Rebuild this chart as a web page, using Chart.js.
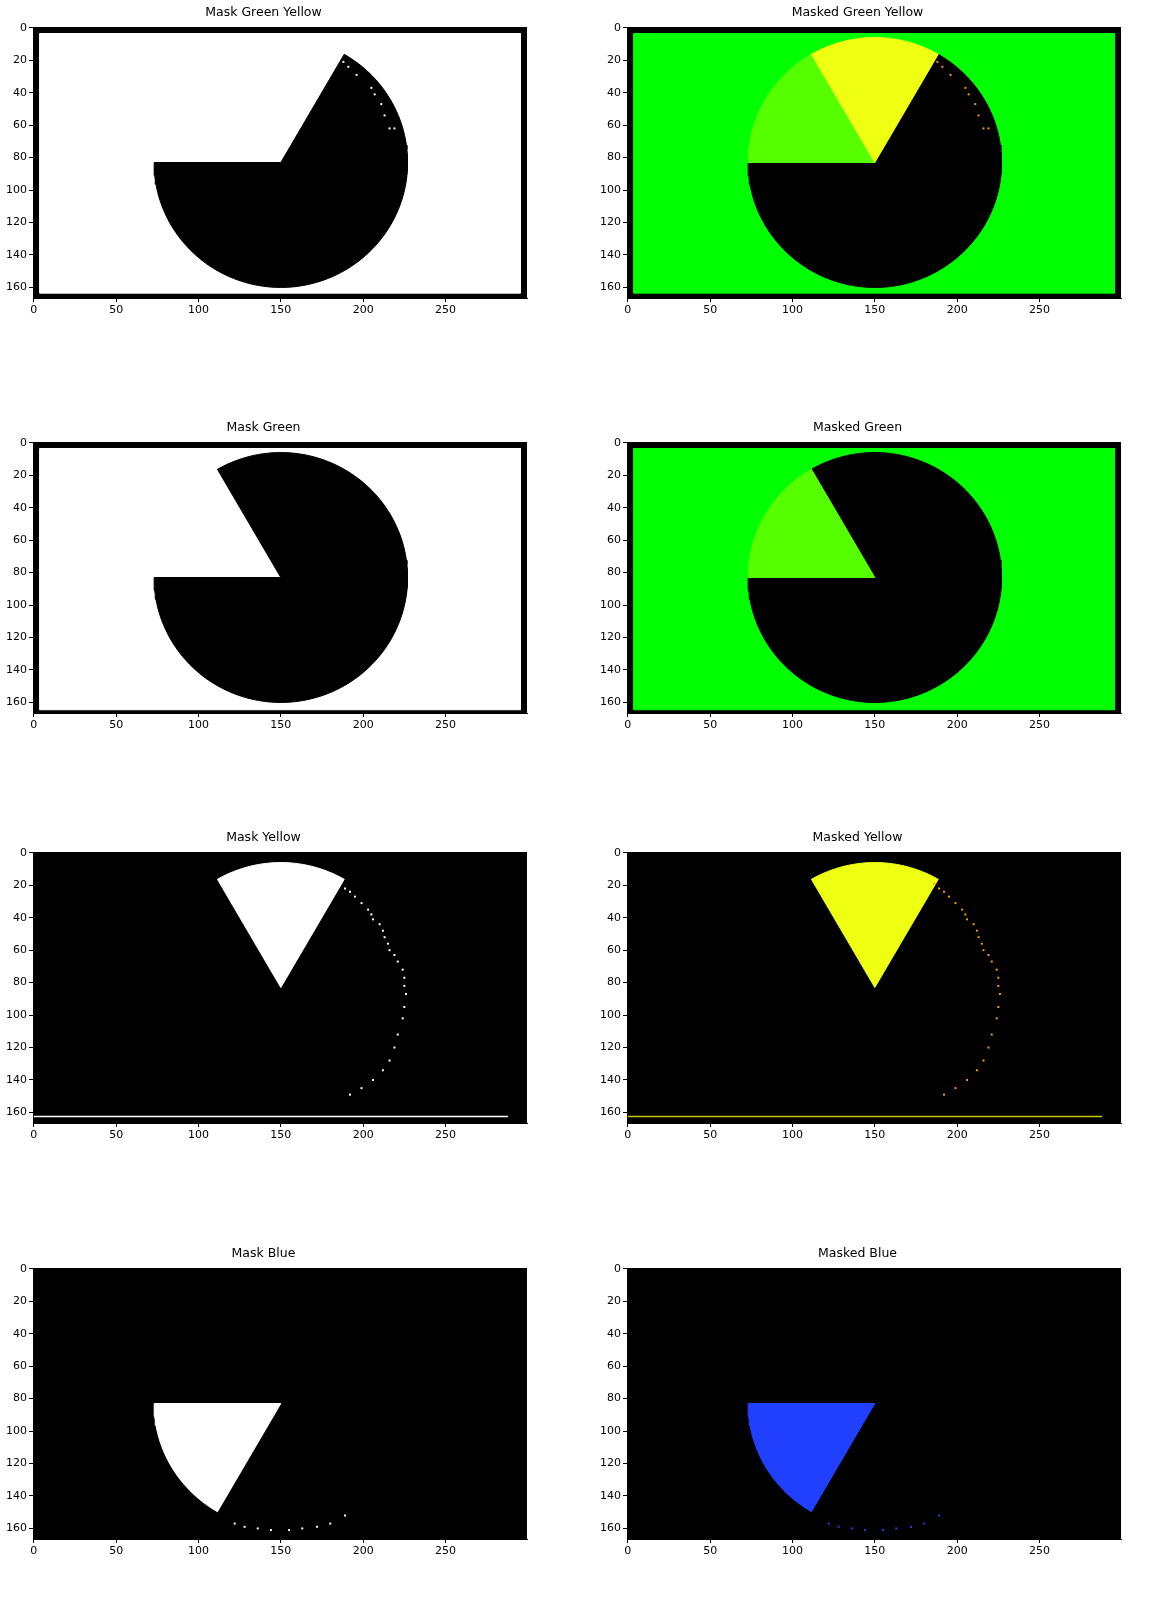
<!DOCTYPE html>
<html>
<head>
<meta charset="utf-8">
<script src="https://cdn.jsdelivr.net/npm/chart.js@4/dist/chart.umd.min.js"></script>
<style>
  body { margin: 0; background: #fff; width: 1159px; height: 1607px; position: relative; }
  .panel { position: absolute; width: 540px; height: 319px; }
</style>
</head>
<body>
<script>
// image extent and ticks
const imgW = 300
const imgH = 167
const xTicks = [0, 50, 100, 150, 200, 250]
const yTicks = [0, 20, 40, 60, 80, 100, 120, 140, 160]

// pie geometry (image coords, angles clockwise from +x, y down)
const pieCenter = [150, 83]
const pieRadius = 77
const greenWedge = [-180, -120]
const yellowWedge = [-120, -60]
const blueWedge = [120, 180]
const restOfPie = [-60, 120]

// frame (black border) inner rectangle
const frameInner = [3.5, 3.5, 295.5, 163.5]

// colours
const cGreen = '#00ff00'
const cLightGreen = '#55ff00'
const cYellow = '#eeff11'
const cOrange = '#ff9900'
const cBlue = '#2040ff'

// speckles along the pie edge
const yellowDots = [[186,19],[189,22],[192,24],[195,27],[199,31],[203,35],[205,38],[206,41],[210,44],[212,48],[213,52],[215,56],[216,60],[219,63],[221,67],[224,72],[225,77],[225,82],[226,87],[225,95],[224,102],[221,112],[219,120],[216,128],[212,134],[206,140],[199,145],[192,149]]
const edgeDots1 = [[188,21],[191,24],[196,29],[205,37],[207,41],[211,47],[213,54],[216,62],[219,62]]
const greenDots = [[172,40],[118,20],[120,24]]
const blueDots = [[122,157],[128,159],[136,160],[144,161],[155,161],[163,160],[172,159],[180,157],[189,152]]
const bottomLine = [[0,162.5],[288,162.5]]

function sector(range) {
  const pts = [{ x: pieCenter[0], y: pieCenter[1] }]
  for (let a = range[0]; a <= range[1] + 0.001; a += 2) {
    const r = a * Math.PI / 180
    pts.push({ x: pieCenter[0] + pieRadius * Math.cos(r), y: pieCenter[1] + pieRadius * Math.sin(r) })
  }
  pts.push({ x: pieCenter[0], y: pieCenter[1] })
  return pts
}
function rect(x0, y0, x1, y1) {
  return [{x:x0,y:y0},{x:x1,y:y0},{x:x1,y:y1},{x:x0,y:y1},{x:x0,y:y0}]
}
const poly = (data, color) => ({ type: 'line', data, backgroundColor: color, borderColor: color, borderWidth: 1, pointRadius: 0, fill: 'shape', tension: 0 })
const dots = (list, color) => ({ type: 'scatter', data: list.map(p => ({x:p[0], y:p[1]})), backgroundColor: color, borderWidth: 0, pointStyle: 'rect', pointRadius: 1.4 })
const line = (list, color) => ({ type: 'line', data: list.map(p => ({x:p[0], y:p[1]})), borderColor: color, borderWidth: 1.5, pointRadius: 0, fill: false })

const full = rect(-0.5, -0.5, imgW - 0.5, imgH - 0.5)
const inner = rect(...frameInner)

const panels = [
  { title: 'Mask Green Yellow', left: 0, top: 1, sets: [poly(full,'#000'), poly(inner,'#fff'), poly(sector(restOfPie.concat()).concat(), '#000'), poly(sector([120,180]),'#000'), dots(edgeDots1,'#fff')] },
  { title: 'Masked Green Yellow', left: 594, top: 1, sets: [poly(full,'#000'), poly(inner,cGreen), poly(sector(restOfPie),'#000'), poly(sector([120,180]),'#000'), poly(sector(greenWedge),cLightGreen), poly(sector(yellowWedge),cYellow), dots(edgeDots1,cOrange)] },
  { title: 'Mask Green', left: 0, top: 416, sets: [poly(full,'#000'), poly(rect(3.5,3.5,295.5,164.5),'#fff'), poly(sector([-120,180]),'#000'), dots(greenDots,'#000')] },
  { title: 'Masked Green', left: 594, top: 416, sets: [poly(full,'#000'), poly(rect(3.5,3.5,295.5,164.5),cGreen), poly(sector([-120,180]),'#000'), poly(sector(greenWedge),cLightGreen), dots(greenDots,'#000')] },
  { title: 'Mask Yellow', left: 0, top: 826, sets: [poly(full,'#000'), poly(sector(yellowWedge),'#fff'), dots(yellowDots,'#fff'), line(bottomLine,'#fff')] },
  { title: 'Masked Yellow', left: 594, top: 826, sets: [poly(full,'#000'), poly(sector(yellowWedge),cYellow), dots(yellowDots,cOrange), line(bottomLine,'#c8c800')] },
  { title: 'Mask Blue', left: 0, top: 1242, sets: [poly(full,'#000'), poly(sector(blueWedge),'#fff'), dots(blueDots,'#fff')] },
  { title: 'Masked Blue', left: 594, top: 1242, sets: [poly(full,'#000'), poly(sector(blueWedge),cBlue), dots(blueDots,cBlue)] }
]

const tickFont = { family: 'DejaVu Sans', size: 11 }
panels.forEach(p => {
  const div = document.createElement('div')
  div.className = 'panel'
  div.style.left = p.left + 'px'
  div.style.top = p.top + 'px'
  const canvas = document.createElement('canvas')
  div.appendChild(canvas)
  document.body.appendChild(div)
  const n = p.sets.length
  p.sets.forEach((d, i) => { d.order = n - i })
  new Chart(canvas, {
    type: 'scatter',
    data: { datasets: p.sets },
    options: {
      responsive: true,
      maintainAspectRatio: false,
      animation: false,
      layout: { padding: { right: 13 } },
      plugins: {
        legend: { display: false },
        tooltip: { enabled: false },
        title: { display: true, text: p.title, color: '#000', font: { family: 'DejaVu Sans', size: 12.5, weight: 'normal' }, padding: { top: 4, bottom: 7 } }
      },
      scales: {
        x: {
          type: 'linear', min: -0.5, max: imgW - 0.5,
          afterBuildTicks: s => { s.ticks = xTicks.map(v => ({ value: v })) },
          afterFit: s => { s.height = 22 },
          grid: { drawOnChartArea: false, tickLength: 4, color: '#000' },
          border: { color: '#000' },
          ticks: { color: '#000', font: tickFont, padding: 2, maxRotation: 0 }
        },
        y: {
          type: 'linear', reverse: true, min: -0.5, max: imgH - 0.5,
          afterBuildTicks: s => { s.ticks = yTicks.map(v => ({ value: v })) },
          afterFit: s => { s.width = 33 },
          grid: { drawOnChartArea: false, tickLength: 4, color: '#000' },
          border: { color: '#000' },
          ticks: { color: '#000', font: tickFont, padding: 2 }
        }
      }
    }
  })
})
</script>
</body>
</html>
